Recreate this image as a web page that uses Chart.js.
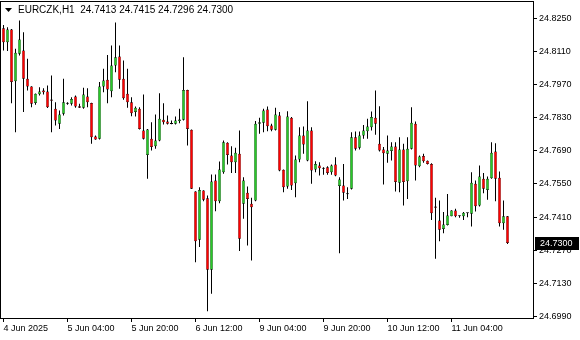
<!DOCTYPE html>
<html>
<head>
<meta charset="utf-8">
<script src="https://cdn.jsdelivr.net/npm/chart.js@4.4.1/dist/chart.umd.min.js"></script>
<style>
html,body{margin:0;padding:0;background:#fff;}
#wrap{width:580px;height:340px;}
</style>
</head>
<body>
<div id="wrap"><canvas id="chart1" width="580" height="340"></canvas></div>
<script>
/* DATA (EURCZK H1, from 4 Jun 12:00) */
const symbol="EURCZK,H1";
const opens=[24.8209,24.8150,24.8203,24.7985,24.8101,24.8115,24.7995,24.7962,24.7893,24.7930,
24.7945,24.7941,24.7907,24.7868,24.7805,24.7847,24.7890,24.7889,24.7920,24.7879,
24.7872,24.7920,24.7893,24.7751,24.7741,24.7962,24.7991,24.7942,24.8051,24.8089,
24.7995,24.7932,24.7896,24.7854,24.7868,24.7776,24.7673,24.7741,24.7710,24.7734,
24.7822,24.7814,24.7805,24.7805,24.7816,24.7822,24.7948,24.7779,24.7518,24.7314,
24.7522,24.7490,24.7187,24.7565,24.7477,24.7600,24.7724,24.7670,24.7642,24.7678,
24.7466,24.7513,24.7466,24.7480,24.7805,24.7809,24.7865,24.7797,24.7779,24.7840,
24.7610,24.7539,24.7830,24.7553,24.7654,24.7755,24.7649,24.7776,24.7611,24.7628,
24.7615,24.7621,24.7600,24.7632,24.7541,24.7544,24.7508,24.7530,24.7748,24.7703,
24.7755,24.7773,24.7790,24.7830,24.7720,24.7696,24.7678,24.7689,24.7709,24.7555,
24.7696,24.7562,24.7699,24.7805,24.7625,24.7668,24.7648,24.7635,24.7455,24.7396,
24.7360,24.7377,24.7414,24.7438,24.7414,24.7414,24.7427,24.7424,24.7551,24.7459,
24.7572,24.7525,24.7574,24.7687,24.7576,24.7384,24.7413];
const highs=[24.8223,24.8213,24.8206,24.8122,24.8242,24.8192,24.8080,24.7963,24.7933,24.7959,
24.7955,24.7967,24.8009,24.7896,24.7861,24.7995,24.7896,24.7917,24.7924,24.7889,
24.7957,24.7955,24.7894,24.7755,24.7981,24.8037,24.8096,24.8136,24.8233,24.8136,
24.8072,24.8037,24.7917,24.7878,24.7875,24.7929,24.7783,24.7811,24.7844,24.7934,
24.7892,24.7840,24.7819,24.7835,24.7868,24.8086,24.7949,24.7780,24.7519,24.7536,
24.7523,24.7501,24.7590,24.7590,24.7645,24.7734,24.7727,24.7710,24.7703,24.7776,
24.7579,24.7539,24.7492,24.7816,24.7830,24.7868,24.7878,24.7805,24.7872,24.7854,
24.7611,24.7858,24.7833,24.7670,24.7790,24.7793,24.7900,24.7790,24.7646,24.7642,
24.7621,24.7625,24.7632,24.7663,24.7579,24.7635,24.7536,24.7769,24.7772,24.7772,
24.7800,24.7826,24.7857,24.7945,24.7879,24.7706,24.7755,24.7727,24.7727,24.7748,
24.7720,24.7748,24.7875,24.7814,24.7670,24.7678,24.7649,24.7638,24.7492,24.7480,
24.7431,24.7508,24.7439,24.7445,24.7417,24.7431,24.7428,24.7600,24.7565,24.7628,
24.7596,24.7582,24.7727,24.7722,24.7603,24.7480,24.7415];
const lows=[24.8115,24.8112,24.7892,24.7769,24.8094,24.7854,24.7945,24.7875,24.7885,24.7924,
24.7929,24.7871,24.7769,24.7797,24.7783,24.7840,24.7885,24.7882,24.7872,24.7871,
24.7868,24.7875,24.7720,24.7737,24.7738,24.7938,24.7892,24.7917,24.8023,24.7953,
24.7906,24.7872,24.7837,24.7835,24.7780,24.7738,24.7572,24.7692,24.7699,24.7731,
24.7802,24.7802,24.7803,24.7802,24.7807,24.7819,24.7713,24.7529,24.7219,24.7283,
24.7477,24.7012,24.7086,24.7435,24.7469,24.7593,24.7632,24.7596,24.7596,24.7266,
24.7403,24.7290,24.7226,24.7477,24.7762,24.7769,24.7773,24.7773,24.7776,24.7604,
24.7515,24.7530,24.7525,24.7494,24.7642,24.7678,24.7646,24.7551,24.7600,24.7586,
24.7589,24.7589,24.7589,24.7583,24.7257,24.7480,24.7487,24.7527,24.7692,24.7696,
24.7741,24.7741,24.7776,24.7758,24.7687,24.7548,24.7640,24.7649,24.7518,24.7515,
24.7459,24.7487,24.7696,24.7565,24.7621,24.7640,24.7632,24.7398,24.7234,24.7308,
24.7342,24.7374,24.7413,24.7409,24.7407,24.7398,24.7409,24.7370,24.7434,24.7455,
24.7511,24.7483,24.7572,24.7477,24.7370,24.7356,24.7296];
const closes=[24.8150,24.8203,24.7981,24.8105,24.8161,24.7995,24.7962,24.7889,24.7932,24.7941,
24.7938,24.7875,24.7902,24.7819,24.7844,24.7896,24.7889,24.7910,24.7878,24.7872,
24.7929,24.7896,24.7748,24.7738,24.7962,24.7988,24.7950,24.8051,24.8086,24.7991,
24.7913,24.7896,24.7849,24.7872,24.7783,24.7741,24.7780,24.7706,24.7734,24.7826,
24.7811,24.7805,24.7804,24.7819,24.7823,24.7948,24.7783,24.7530,24.7308,24.7525,
24.7483,24.7187,24.7561,24.7477,24.7611,24.7727,24.7673,24.7642,24.7682,24.7318,
24.7565,24.7487,24.7452,24.7805,24.7811,24.7861,24.7794,24.7779,24.7844,24.7607,
24.7536,24.7835,24.7544,24.7654,24.7755,24.7717,24.7776,24.7607,24.7635,24.7617,
24.7614,24.7596,24.7628,24.7586,24.7569,24.7513,24.7507,24.7748,24.7699,24.7755,
24.7776,24.7793,24.7833,24.7805,24.7692,24.7680,24.7692,24.7709,24.7558,24.7696,
24.7558,24.7699,24.7809,24.7628,24.7666,24.7646,24.7635,24.7426,24.7449,24.7356,
24.7379,24.7417,24.7438,24.7414,24.7413,24.7428,24.7426,24.7555,24.7456,24.7582,
24.7530,24.7572,24.7682,24.7572,24.7384,24.7413,24.7300];

const timeLabels=["4 Jun 2025","5 Jun 04:00","5 Jun 20:00","6 Jun 12:00","9 Jun 04:00","9 Jun 20:00","10 Jun 12:00","11 Jun 04:00"];
const timeIdx=[0,16,32,48,64,80,96,112];
const priceTicks=[24.8250,24.8110,24.7970,24.7830,24.7690,24.7550,24.7410,24.7270,24.7130,24.6990];

const bull="rgb(40,200,40)";
const bear="rgb(255,0,0)";
const FONT="Liberation Sans";

/* FRAME, HEADER, PRICE TAG */
const overlay={
  id:"overlay",
  beforeDraw(c){
    const ctx=c.ctx;
    ctx.save();
    ctx.fillStyle="#fff";
    ctx.fillRect(0,0,c.width,c.height);
    ctx.restore();
  },
  afterDraw(c){
    const ctx=c.ctx,a=c.chartArea;
    const last=closes.length-1;
    ctx.save();
    ctx.strokeStyle="#000";
    ctx.lineWidth=1;
    ctx.strokeRect(a.left-0.5,a.top-0.5,a.right-a.left+1,a.bottom-a.top+1);

    // header
    ctx.fillStyle="#000";
    ctx.beginPath();
    ctx.moveTo(5,8);ctx.lineTo(12,8);ctx.lineTo(8.5,12);ctx.closePath();
    ctx.fill();
    ctx.font="10px "+FONT;
    ctx.textBaseline="middle";
    ctx.textAlign="left";
    const hdr=symbol+"  "+[opens[last],highs[last],lows[last],closes[last]].map(v=>v.toFixed(4)).join(" ");
    ctx.fillText(hdr,18,10.5);

    // current price tag
    ctx.font="9px "+FONT;
    const y=Math.round(c.scales.y.getPixelForValue(closes[last]));
    ctx.fillRect(535,y-6,44,13);
    ctx.fillStyle="#fff";
    ctx.fillText(closes[last].toFixed(4),540,y+0.5);
    ctx.restore();
  }
};

const bodies=opens.map((o,i)=>({x:i,y:[o,closes[i]]}));
const wicks=lows.map((l,i)=>({x:i,y:[l,highs[i]]}));

new Chart(chart1,{
  type:"bar",
  data:{
    datasets:[
      {
        data:bodies,
        grouped:false,
        barThickness:3,
        minBarLength:1,
        inflateAmount:0,
        backgroundColor:opens.map((o,i)=>closes[i]>=o?bull:bear),
        borderColor:"#000",
        borderWidth:0.5,
        borderSkipped:false
      },
      {
        data:wicks,
        grouped:false,
        barThickness:1,
        inflateAmount:0,
        backgroundColor:"#000",
        borderWidth:0
      }
    ]
  },
  options:{
    responsive:false,
    animation:false,
    devicePixelRatio:1,
    layout:{padding:{left:1,top:2,right:0,bottom:0},autoPadding:false},
    plugins:{legend:{display:false},tooltip:{enabled:false}},
    scales:{
      x:{
        type:"linear",
        offset:false,
        min:-0.625,
        max:132.375,
        afterBuildTicks:s=>{s.ticks=timeIdx.map(v=>({value:v}));},
        afterFit:s=>{s.height=22;s.paddingLeft=0;s.paddingRight=0;},
        border:{display:false},
        grid:{drawOnChartArea:false,offset:false,tickLength:4,color:"#000"},
        ticks:{
          callback:(v,i)=>timeLabels[i],
          align:"start",
          maxRotation:0,
          autoSkip:false,
          padding:1,
          color:"#000",
          font:{family:FONT,size:9}
        }
      },
      y:{
        position:"right",
        min:24.69831,
        max:24.83198,
        afterBuildTicks:s=>{s.ticks=priceTicks.map(v=>({value:v}));},
        afterFit:s=>{s.width=47;s.paddingTop=0;s.paddingBottom=0;},
        border:{display:false},
        grid:{drawOnChartArea:false,tickLength:4,color:"#000"},
        ticks:{
          callback:v=>v.toFixed(4),
          padding:2,
          color:"#000",
          font:{family:FONT,size:9}
        }
      }
    }
  },
  plugins:[overlay]
});
</script>
</body>
</html>
